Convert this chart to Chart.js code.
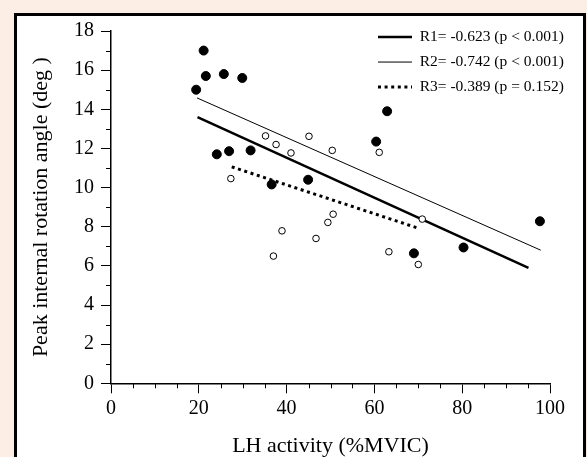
<!DOCTYPE html>
<html lang="en">
<head>
    <meta charset="UTF-8">
    <meta name="viewport" content="width=device-width, initial-scale=1.0">
    <title>Peak internal rotation angle vs LH activity</title>
    <script src="https://cdn.jsdelivr.net/npm/chart.js@4.4.0/dist/chart.umd.min.js"></script>
    <style>
        html, body { margin: 0; padding: 0; background: #fdeee5; }
        .wrap { position: relative; width: 587px; height: 457px; overflow: hidden; }
        .frame { position: absolute; left: 14px; top: 13px; width: 566px; height: 470px; background: #fff; border: 3px solid #000; }
        #myChart { position: absolute; left: 0; top: 0; }
    </style>
</head>
<body>
    <div class="wrap">
        <div class="frame"></div>
        <canvas id="myChart" width="587" height="457"></canvas>
    </div>

    <script>
        // filled circles
        const filledX = [19.4, 21.1, 21.6, 25.7, 29.9, 24.1, 26.9, 31.8, 36.6, 44.9, 60.4, 62.9, 69.0, 80.3, 97.7];
        const filledY = [15.0, 17.0, 15.7, 15.8, 15.6, 11.7, 11.86, 11.9, 10.16, 10.4, 12.35, 13.9, 6.64, 6.94, 8.28];

        // open circles
        const openX = [27.3, 35.2, 37.6, 41.0, 38.95, 37.0, 45.1, 50.4, 61.1, 50.6, 49.4, 70.9, 46.7, 63.3, 70.0];
        const openY = [10.46, 12.64, 12.2, 11.77, 7.79, 6.5, 12.62, 11.9, 11.8, 8.64, 8.22, 8.39, 7.4, 6.72, 6.07];

        // regression lines (end points)
        const r1X = [19.7, 95.1];
        const r1Y = [13.6, 5.9];
        const r2X = [19.6, 97.9];
        const r2Y = [14.58, 6.8];
        const r3X = [27.5, 70.2];
        const r3Y = [11.06, 7.91];

        const lineLabels = ['R1= -0.623 (p < 0.001)', 'R2= -0.742 (p < 0.001)', 'R3= -0.389 (p = 0.152)'];

        const xTickValues = [0, 20, 40, 60, 80, 100];
        const yTickValues = [0, 2, 4, 6, 8, 10, 12, 14, 16, 18];
        const xMinorTicks = [5, 10, 15, 25, 30, 35, 45, 50, 55, 65, 70, 75, 85, 90, 95];
        const yMinorTicks = [1, 3, 5, 7, 9, 11, 13, 15, 17];

        const toPoints = (xs, ys) => xs.map((x, i) => ({ x: x, y: ys[i] }));

        Chart.defaults.color = '#000';
        Chart.defaults.font.family = "'Liberation Serif', 'Times New Roman', serif";

        // small ticks between the labelled ones
        const minorTicks = {
            id: 'minorTicks',
            afterDraw(chart) {
                const ctx = chart.ctx;
                const sx = chart.scales.x, sy = chart.scales.y;
                const area = chart.chartArea;
                ctx.save();
                ctx.strokeStyle = '#000';
                ctx.lineWidth = 1;
                ctx.beginPath();
                xMinorTicks.forEach(v => {
                    const px = Math.round(sx.getPixelForValue(v)) + 0.5;
                    ctx.moveTo(px, area.bottom);
                    ctx.lineTo(px, area.bottom + 5);
                });
                yMinorTicks.forEach(v => {
                    const py = Math.round(sy.getPixelForValue(v)) + 0.5;
                    ctx.moveTo(area.left, py);
                    ctx.lineTo(area.left - 5, py);
                });
                ctx.stroke();
                ctx.restore();
            }
        };

        // move the legend to the top right corner of the plot
        const legendSpot = {
            id: 'legendSpot',
            afterLayout(chart) {
                const lg = chart.legend;
                const pad = lg.options.labels.padding;
                lg.left = 378 - pad;
                lg.right = 587;
                lg.top = 29.3 - pad;
                lg.bottom = lg.top + lg.height + 10;
            }
        };

        const ctx = document.getElementById('myChart').getContext('2d');
        const myChart = new Chart(ctx, {
            type: 'scatter',
            data: {
                datasets: [{
                    label: 'filled',
                    data: toPoints(filledX, filledY),
                    backgroundColor: '#000',
                    borderColor: '#000',
                    borderWidth: 1,
                    pointRadius: 4.5
                }, {
                    label: 'open',
                    data: toPoints(openX, openY),
                    backgroundColor: '#fff',
                    borderColor: '#000',
                    borderWidth: 1,
                    pointRadius: 3.3
                }, {
                    label: lineLabels[0],
                    data: toPoints(r1X, r1Y),
                    showLine: true,
                    borderColor: '#000',
                    borderWidth: 2.5,
                    pointRadius: 0,
                    fill: false
                }, {
                    label: lineLabels[1],
                    data: toPoints(r2X, r2Y),
                    showLine: true,
                    borderColor: '#000',
                    borderWidth: 1,
                    pointRadius: 0,
                    fill: false
                }, {
                    label: lineLabels[2],
                    data: toPoints(r3X, r3Y),
                    showLine: true,
                    borderColor: '#000',
                    borderWidth: 3,
                    borderDash: [3, 3.6],
                    pointRadius: 0,
                    fill: false
                }]
            },
            options: {
                responsive: false,
                animation: false,
                layout: {
                    autoPadding: false,
                    padding: { left: 0, top: 31, right: 37, bottom: 0 }
                },
                plugins: {
                    tooltip: { enabled: false },
                    legend: {
                        position: 'chartArea',
                        align: 'start',
                        labels: {
                            usePointStyle: true,
                            pointStyle: 'line',
                            pointStyleWidth: 34,
                            padding: 9.5,
                            color: '#000',
                            font: { size: 15.5 },
                            filter: item => item.datasetIndex >= 2,
                            generateLabels: chart => {
                                const items = Chart.defaults.plugins.legend.labels.generateLabels(chart);
                                items.forEach(item => {
                                    const ds = chart.data.datasets[item.datasetIndex];
                                    item.lineDash = ds.borderDash || [];
                                    item.lineWidth = ds.borderWidth;
                                    item.strokeStyle = '#000';
                                });
                                return items;
                            }
                        }
                    }
                },
                scales: {
                    x: {
                        type: 'linear',
                        min: 0,
                        max: 100,
                        afterFit: scale => { scale.height = 73.7; },
                        afterBuildTicks: scale => { scale.ticks = xTickValues.map(v => ({ value: v })); },
                        ticks: { font: { size: 20 }, padding: 3, color: '#000' },
                        grid: { drawOnChartArea: false, drawTicks: true, tickLength: 10, tickColor: '#000', tickWidth: 1 },
                        border: { display: true, color: '#000', width: 1.5 },
                        title: {
                            display: true,
                            text: 'LH activity (%MVIC)',
                            font: { size: 22 },
                            color: '#000',
                            padding: { top: 0, bottom: -2 }
                        }
                    },
                    y: {
                        type: 'linear',
                        min: 0,
                        max: 18,
                        afterFit: scale => { scale.width = 111; },
                        afterBuildTicks: scale => { scale.ticks = yTickValues.map(v => ({ value: v })); },
                        ticks: { font: { size: 20 }, padding: 7, color: '#000' },
                        grid: { drawOnChartArea: false, drawTicks: true, tickLength: 10, tickColor: '#000', tickWidth: 1 },
                        border: { display: true, color: '#000', width: 1.5 },
                        title: {
                            display: true,
                            text: 'Peak internal rotation angle (deg )',
                            font: { size: 22 },
                            color: '#000',
                            padding: { top: 28, bottom: 0 }
                        }
                    }
                }
            },
            plugins: [minorTicks, legendSpot]
        });
    </script>
</body>
</html>
